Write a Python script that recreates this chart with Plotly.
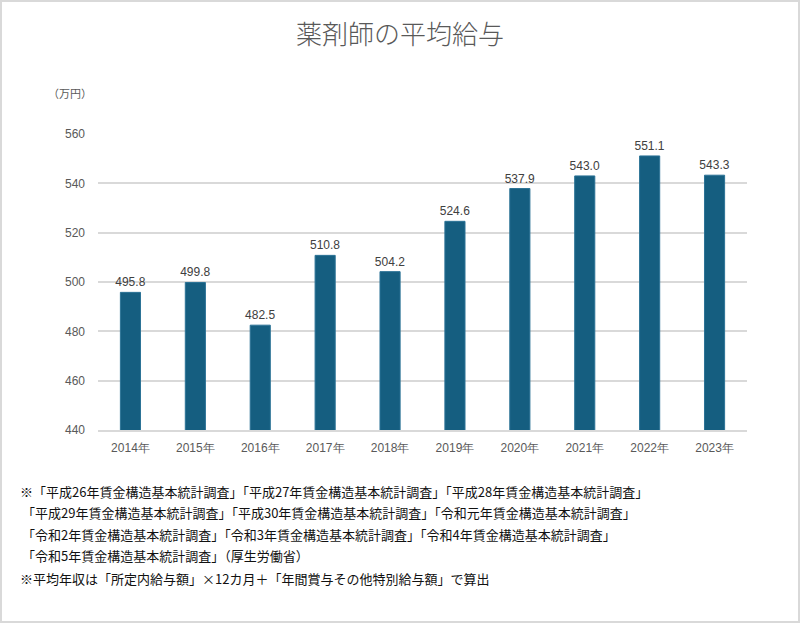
import plotly.graph_objects as go

years = ["2014年", "2015年", "2016年", "2017年", "2018年", "2019年", "2020年", "2021年", "2022年", "2023年"]
salary = [495.8, 499.8, 482.5, 510.8, 504.2, 524.6, 537.9, 543.0, 551.1, 543.3]
y_ticks = [440, 460, 480, 500, 520, 540, 560]

title = "薬剤師の平均給与"
unit = "（万円）"
notes = [
    "※「平成26年賃金構造基本統計調査」「平成27年賃金構造基本統計調査」「平成28年賃金構造基本統計調査」",
    "「平成29年賃金構造基本統計調査」「平成30年賃金構造基本統計調査」「令和元年賃金構造基本統計調査」",
    "「令和2年賃金構造基本統計調査」「令和3年賃金構造基本統計調査」「令和4年賃金構造基本統計調査」",
    "「令和5年賃金構造基本統計調査」（厚生労働省）",
    "※平均年収は「所定内給与額」×12カ月＋「年間賞与その他特別給与額」で算出",
]

W, H = 800, 623
L, R, T, B = 98, 747, 134, 430

def xp(px):
    return (px - L) / (R - L)

def yp(py):
    return (B - py) / (B - T)

FONT = "Noto Sans CJK JP"
NUMFONT = "Liberation Sans, Arial"

fig = go.Figure()
fig.add_trace(go.Bar(
    x=years, y=salary,
    marker=dict(color="#155e80", line=dict(color="#2c7396", width=1)),
    texttemplate="%{y:.1f}", textposition="outside", constraintext="none",
    textfont=dict(family=NUMFONT, size=12, color="#404040"),
    cliponaxis=False,
))

annotations = [
    dict(text=unit, x=xp(46), y=yp(93), xref="paper", yref="paper",
         xanchor="left", yanchor="middle", showarrow=False,
         font=dict(family=FONT, size=11, color="#595959")),
]
note_y = [491, 512, 534, 555, 578]
note_x = [18, 20, 20, 20, 18]
for t, py, px in zip(notes, note_y, note_x):
    annotations.append(dict(text=t, x=xp(px), y=yp(py), xref="paper", yref="paper",
                            xanchor="left", yanchor="middle", showarrow=False,
                            font=dict(family=FONT, size=13, color="#111111")))

fig.update_layout(
    width=W, height=H,
    margin=dict(l=L, r=W - R, t=T, b=H - B, pad=0),
    paper_bgcolor="white", plot_bgcolor="white",
    title=dict(text=title, x=0.5, xanchor="center", y=1 - 35 / H, yanchor="middle",
               font=dict(family=FONT, size=26, color="#595959", weight=300)),
    bargap=0.69,
    showlegend=False,
    annotations=annotations,
    xaxis=dict(showgrid=False, showline=True, linecolor="#d9d9d9", linewidth=1.5,
               ticks="", tickfont=dict(family=NUMFONT, size=12, color="#595959"),
               ticklabelstandoff=6),
    yaxis=dict(range=[440, 560], tickvals=y_ticks, showgrid=True, gridcolor="#d9d9d9",
               gridwidth=1.5, zeroline=False, showline=False, ticks="",
               tickfont=dict(family=NUMFONT, size=12, color="#595959"),
               ticklabelstandoff=12),
    shapes=[dict(type="rect", xref="paper", yref="paper", x0=xp(1), x1=xp(799), y0=yp(1), y1=yp(622),
                 line=dict(color="#d9d9d9", width=2), fillcolor="rgba(0,0,0,0)", layer="below")],
)

fig.write_html("out.html", config={"displayModeBar": False},
               post_script="document.body.style.margin='0';document.body.style.overflow='hidden';")
